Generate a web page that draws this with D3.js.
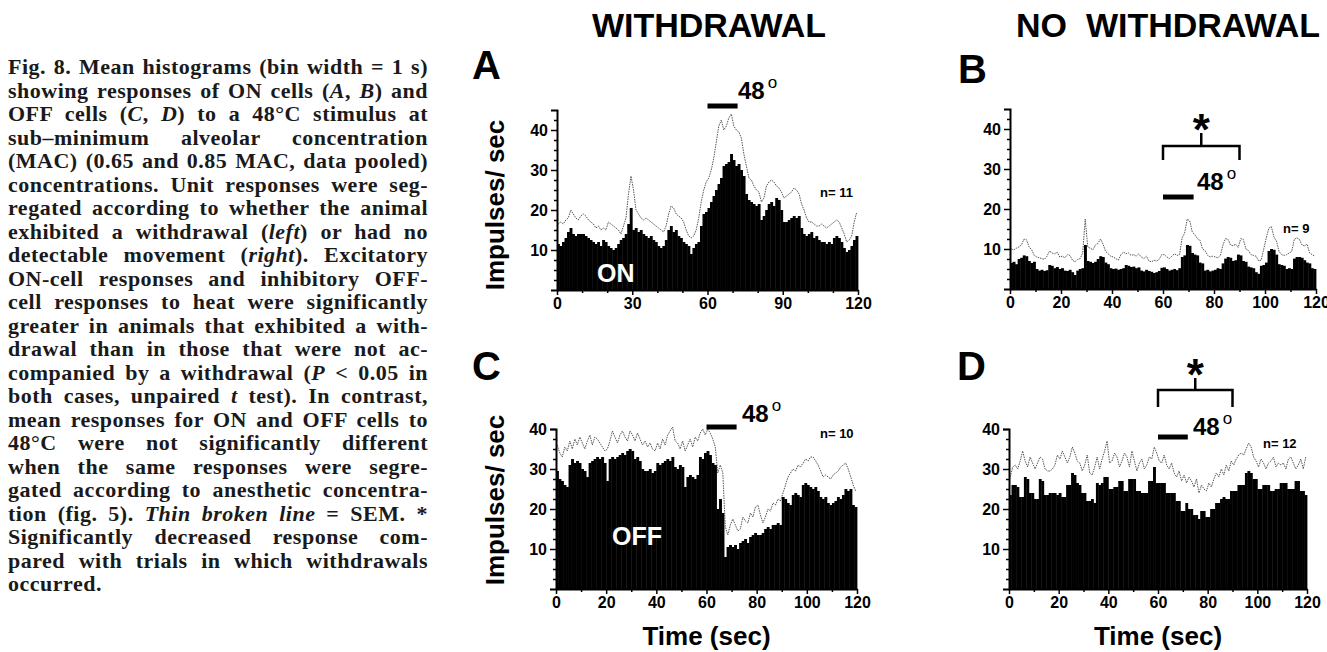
<!DOCTYPE html>
<html>
<head>
<meta charset="utf-8">
<script src="https://cdn.jsdelivr.net/npm/d3@7"></script>
<style>
  body { margin: 0; background: #fff; }
  #wrap { position: relative; width: 1327px; height: 652px; overflow: hidden; }
  #chart { position: absolute; left: 0; top: 0; }
  #caption {
    position: absolute; left: 8px; top: 55px; width: 420px;
    font-family: "Liberation Serif", "Times New Roman", serif;
    font-weight: bold; font-size: 22px; line-height: 23.5px; letter-spacing: 0.5px; color: #1a1a1a;
  }
  #caption div { text-align: justify; text-align-last: justify; }
  #caption div.last { text-align-last: left; }
  .sans { font-family: "Liberation Sans", Arial, sans-serif; font-weight: bold; }
</style>
</head>
<body>
<div id="wrap"><svg id="chart" width="1327" height="652"></svg><div id="caption"></div></div>
<script>
// mean impulses/sec per 1 s bin (0..119 s), and mean + SEM (thin broken line)
const aMean = [11.5, 11, 12, 13, 14.5, 15.5, 14, 13.5, 14, 14,
  14, 13.5, 13, 12.5, 12, 11.5, 12, 11, 12.5, 12,
  11, 10.5, 10, 10.5, 11.5, 12.5, 13, 14, 16.5, 20.5,
  15, 15.5, 14.5, 15, 14, 13.5, 13, 13.5, 12.5, 12,
  11, 10.5, 11, 12.5, 15, 16, 14.5, 15, 13.5, 13,
  12, 11.5, 11, 9, 10.5, 11.5, 12, 16, 19, 19.5,
  20.5, 22, 23.5, 25, 26.5, 28, 31, 31.5, 32, 34,
  32.5, 31, 31.5, 30, 28.5, 24, 22.5, 22, 21.5, 21,
  21.5, 17.5, 18.5, 20, 21.5, 22, 21, 23, 22.5, 20,
  17, 17, 17.5, 18, 18.5, 18, 18.5, 15.5, 14, 13.5,
  14, 14.5, 13, 13.5, 12.5, 12, 12, 11.5, 12, 11.5,
  13, 13.5, 13, 12, 10.5, 9.5, 10, 11, 12.5, 13.5];
const aSem = [16.5, 17, 16.5, 17.5, 18, 20, 19, 18, 17.5, 18.5,
  19, 18.5, 17.5, 17, 16.5, 15.5, 16, 15, 15.5, 15,
  17, 16.5, 16, 15.5, 15, 14, 16, 18, 24, 28.5,
  25, 20, 19, 18, 17.5, 18, 17.5, 17, 16.5, 16,
  15.5, 15, 14.5, 16, 19, 21, 20.5, 19, 18.5, 18,
  17, 15, 13.5, 13, 13.5, 15, 18, 22, 25, 27,
  28, 30, 33, 37, 41, 42.5, 40, 41, 43, 44,
  41, 40, 39.5, 38, 34, 31, 28, 27.5, 26, 25,
  24.5, 22, 23, 26, 27, 27.5, 27, 26, 25.5, 24.5,
  23, 23.5, 24, 24.5, 25.5, 25, 24, 21.5, 20, 18,
  17, 17, 16.5, 16, 16, 16.5, 16, 15.5, 16, 16.5,
  17, 17.5, 17, 15.5, 14, 12, 12.5, 13.5, 17, 19.5];
const bMean = [6.5, 6.8, 6.2, 7.5, 7.8, 8.4, 8.2, 7, 6.5, 6.8,
  5, 4.6, 4.8, 4.5, 4.7, 6, 5.8, 5.2, 5.5, 5,
  5.2, 4.6, 4.5, 4.8, 4.2, 3.5, 4.6, 5, 5.2, 11,
  7, 6.8, 6.5, 6.8, 7.5, 8.2, 8, 6.6, 6.2, 5.2,
  5, 5.1, 4.8, 5, 5.2, 6, 5.8, 5.5, 5.6, 5.2,
  5.4, 4.6, 4.4, 4.8, 4.5, 4.3, 4, 4.2, 4.5, 5.3,
  5.4, 5, 4.6, 4.8, 5, 4.7, 5.2, 8, 8.4, 11,
  10.8, 9, 8.6, 8.4, 6.6, 6.4, 4.6, 4.8, 4.4, 4.6,
  4.8, 5.2, 5, 6.4, 7.6, 8, 7.8, 7, 7.2, 8.6,
  8.4, 7, 6.8, 5.6, 5.4, 5.2, 4.2, 3.8, 5.8, 6,
  6.6, 9.5, 10, 9.8, 8.6, 6.2, 6, 5.8, 5, 5.2,
  5, 7.6, 8, 8, 7.8, 7.2, 6.6, 6.4, 5.2, 5];
const bSem = [10, 9.8, 10.2, 10.5, 11, 12.5, 12.3, 10.5, 9.8, 8.4,
  8, 7.8, 7.6, 7.4, 8.2, 9.5, 9, 8.8, 9.2, 8,
  8.2, 7.8, 8.6, 8.4, 7.2, 6.8, 7.4, 7.6, 9, 17.5,
  10.5, 10.2, 9.8, 11, 11.4, 12.5, 11.2, 9.4, 8.8, 8.2,
  8, 7.6, 7.2, 8.6, 9.2, 8.8, 9, 8.4, 8.6, 8.2,
  8.8, 8, 7.6, 8.2, 7, 6.8, 7.2, 7, 7.4, 8.6,
  8.6, 8, 7.6, 8.2, 8.8, 8.4, 8.6, 12.8, 14, 17.5,
  17, 14.2, 13.6, 12.6, 12.2, 10, 9.6, 8.4, 8, 8.2,
  8, 7.8, 8.4, 11, 12.6, 12.4, 11, 10.8, 11.2, 10.4,
  12.6, 12.4, 10, 9.6, 8.6, 8.4, 8.2, 7, 7.2, 10,
  12.8, 15.2, 15.6, 13, 12, 9.4, 8.6, 8.4, 8.6, 9,
  9.4, 12.4, 12.8, 12.4, 11, 10.8, 11.2, 9, 8.6, 8.2];
const cMean = [29.5, 27.5, 27, 26, 25.5, 31, 32.5, 31.5, 32, 31.5,
  30, 29.5, 28, 31.5, 32, 32.5, 33, 32.5, 33, 31.5,
  27, 32.5, 33, 32.5, 33, 33.5, 34, 33.5, 34.5, 35,
  34.5, 32.5, 33, 32, 30, 29.5, 29.5, 30, 29, 29.5,
  31.5, 31, 31.5, 32, 32.5, 32, 33, 30.5, 30, 31,
  30.5, 25.5, 28, 28.5, 28, 27.5, 28.5, 33, 32.5, 34,
  34.5, 33.5, 31.5, 31, 20, 22.5, 19, 8, 10.5, 11,
  10.5, 11, 10, 11.5, 12, 12.5, 11.5, 13, 13.5, 14,
  13.5, 13.5, 14, 15, 15.5, 15, 16, 16, 16.5, 16,
  23, 22.5, 21.5, 21, 23.5, 24, 23.5, 23, 26, 26.5,
  26, 25.5, 25, 25.5, 24.5, 23, 22.5, 23, 21.5, 21,
  21.5, 22, 23, 22.5, 23.5, 25, 24.5, 25, 21, 20.5];
const cSem = [36, 34, 33, 35.5, 34.5, 37, 35, 37.5, 36, 38,
  36.5, 35, 37, 38.5, 36, 38, 37.5, 36.5, 35.5, 34.5,
  35, 37, 39.5, 38, 36.5, 38.5, 39.5, 38, 37, 39.5,
  38.5, 37, 39, 37.5, 36, 37, 35.5, 36.5, 35, 34.5,
  36.5, 35, 37.5, 36, 38.5, 39.5, 40.5, 37, 36.5, 35,
  37, 34.5, 36, 37.5, 35.5, 38, 37, 39, 40, 38.5,
  40, 39, 37.5, 35.5, 29, 31, 29, 15.5, 13.5, 16,
  17.5, 16, 14.5, 15, 18, 17, 16.5, 19, 18, 20.5,
  21, 18.5, 16.5, 18, 20, 19.5, 21.5, 21, 22.5, 22,
  24, 26, 28, 29, 30, 29.5, 31, 30.5, 31.5, 32.5,
  32, 33, 33, 32, 31, 29.5, 28, 28.5, 28, 27.5,
  28.5, 29, 29.5, 30.5, 31, 31.5, 30, 28, 26, 24.5];
const dMean = [23.5, 26, 26, 25.5, 23, 23, 28, 27.5, 24, 24,
  22.5, 22.5, 27.5, 27, 23.5, 23.5, 24, 24, 24, 23.5,
  24, 23, 23, 26, 26, 29, 28.5, 26.5, 26, 24,
  24, 22, 22, 22.5, 21.5, 26.5, 26, 26.5, 28, 28,
  25, 25, 25.5, 25.5, 27, 27, 24.5, 24.5, 27.5, 27.5,
  27.5, 24.5, 24.5, 24, 24, 24, 27, 27, 30.5, 26.5,
  26.5, 26.5, 26.5, 24, 24, 24, 24, 22, 22, 19.5,
  19.5, 21.5, 20, 20, 18.5, 18.5, 17.5, 19.5, 19.5, 18,
  18, 20, 20, 21.5, 21.5, 22.5, 23, 22.5, 22.5, 24.5,
  24.5, 24.5, 26, 26, 26, 29, 29.5, 29, 27.5, 27.5,
  25, 25, 26, 26, 26, 24.5, 24.5, 25, 25, 26.5,
  26.5, 26.5, 25, 25, 25, 27, 27, 24.5, 24.5, 23.5];
const dSem = [28, 30.5, 31, 30, 32, 34.5, 32, 30.5, 33, 31.5,
  30, 31.5, 33, 32.5, 30, 29.5, 29.5, 30, 31, 33.5,
  32.5, 34.5, 33, 31.5, 33, 35.5, 34, 32, 31.5, 29.5,
  31, 33.5, 29, 28.5, 30.5, 33, 30, 32.5, 34.5, 37,
  31.5, 32, 34, 33, 30.5, 32, 34, 33, 30.5, 34.5,
  32, 29.5, 31.5, 32.5, 30, 31, 33, 32.5, 35.5, 34,
  32, 31.5, 33.5, 31, 30, 31.5, 29, 28, 29.5, 27,
  28.5, 26.5, 28, 27, 25.5, 27.5, 24, 26, 25, 24.5,
  26.5, 25.5, 27.5, 29, 28, 30, 28.5, 31, 29.5, 32,
  31, 32.5, 33.5, 34, 33.5, 35, 36.5, 35.5, 33, 32,
  30.5, 32.5, 31.5, 30, 31.5, 32, 33, 30.5, 31.5, 31,
  31.5, 30, 32.5, 33, 31.5, 30, 31, 32.5, 30, 33];

const xTicksA = [0, 30, 60, 90, 120],
  xTicksB = [0, 20, 40, 60, 80, 100, 120],
  yTicks = [10, 20, 30, 40];
const columnTitles = ["WITHDRAWAL", "NO  WITHDRAWAL"];
const nLabels = ["n= 11", "n= 9", "n= 10", "n= 12"];
const stimulus = [60, 72], sigWindow = [60, 90], stimLabel = "48";

const captionLines = [
  "Fig. 8. Mean histograms (bin width = 1 s)",
  "showing responses of ON cells (<i>A</i>, <i>B</i>) and",
  "OFF cells (<i>C</i>, <i>D</i>) to a 48°C stimulus at",
  "sub–minimum alveolar concentration",
  "(MAC) (0.65 and 0.85 MAC, data pooled)",
  "concentrations. Unit responses were seg-",
  "regated according to whether the animal",
  "exhibited a withdrawal (<i>left</i>) or had no",
  "detectable movement (<i>right</i>). Excitatory",
  "ON-cell responses and inhibitory OFF-",
  "cell responses to heat were significantly",
  "greater in animals that exhibited a with-",
  "drawal than in those that were not ac-",
  "companied by a withdrawal (<i>P</i> &lt; 0.05 in",
  "both cases, unpaired <i>t</i> test). In contrast,",
  "mean responses for ON and OFF cells to",
  "48°C were not significantly different",
  "when the same responses were segre-",
  "gated according to anesthetic concentra-",
  "tion (fig. 5). <i>Thin broken line</i> = SEM. *",
  "Significantly decreased response com-",
  "pared with trials in which withdrawals",
  "occurred."
];

d3.select("#caption").selectAll("div").data(captionLines).join("div")
  .classed("last", (d, i) => i === captionLines.length - 1)
  .html(d => d);

const svg = d3.select("#chart");

// layout of the four panels
const panels = [
  {letter: "A", mean: aMean, sem: aSem, left: 557, right: 858, base: 290, yMax: 45, xt: xTicksA,
    n: nLabels[0], nPos: [820, 197], lPos: [472, 79], stimY: 106, stimTxt: [738, 99],
    cell: "ON", cellPos: [597, 282], ylab: 205},
  {letter: "B", mean: bMean, sem: bSem, left: 1010, right: 1316, base: 289, yMax: 45, xt: xTicksB,
    n: nLabels[1], nPos: [1283, 233], lPos: [958, 83], stimY: 197, stimTxt: [1197, 190],
    bracket: {y: 146, leg: 160, top: 133, star: 145}},
  {letter: "C", mean: cMean, sem: cSem, left: 556, right: 857, base: 589, yMax: 40, xt: xTicksB,
    n: nLabels[2], nPos: [820, 438], lPos: [472, 380], stimY: 427, stimTxt: [742, 422],
    cell: "OFF", cellPos: [612, 545], ylab: 500, xlab: true},
  {letter: "D", mean: dMean, sem: dSem, left: 1009, right: 1307, base: 589, yMax: 40, xt: xTicksB,
    n: nLabels[3], nPos: [1263, 448], lPos: [957, 380], stimY: 437, stimTxt: [1193, 435],
    bracket: {y: 390, leg: 407, top: 378, star: 390}, xlab: true}
];

svg.append("text").attr("class", "sans").attr("x", 709).attr("y", 37)
  .attr("text-anchor", "middle").attr("font-size", 34).text(columnTitles[0]);
svg.append("text").attr("class", "sans").attr("x", 1016).attr("y", 37)
  .attr("font-size", 34).style("white-space", "pre").text(columnTitles[1]);

panels.forEach(p => {
  const x = d3.scaleLinear().domain([0, 120]).range([p.left, p.right]);
  const y = d3.scaleLinear().domain([0, p.yMax]).range([p.base, p.base - p.yMax * 4]);
  const g = svg.append("g");

  // histogram bars
  g.selectAll("rect.bin").data(p.mean).join("rect")
    .attr("class", "bin")
    .attr("x", (d, i) => x(i))
    .attr("width", x(1) - x(0) + 0.4)
    .attr("y", d => y(d))
    .attr("height", d => y(0) - y(d))
    .attr("fill", "#000");

  // mean + SEM
  g.append("path").datum(p.sem)
    .attr("d", d3.line().x((d, i) => x(i + 0.5)).y(d => y(d)))
    .attr("fill", "none").attr("stroke", "#555").attr("stroke-width", 1)
    .attr("stroke-dasharray", "1.5,1");

  // axes
  const minorY = d3.range(2.5, p.yMax, 2.5).filter(v => v % 10 !== 0);
  const minorX = d3.range(10, 120, 10).filter(v => !p.xt.includes(v));
  g.append("g").attr("transform", `translate(${p.left},0)`)
    .call(d3.axisLeft(y).tickValues(minorY).tickSize(3).tickFormat(""))
    .call(a => a.select(".domain").remove());
  g.append("g").attr("transform", `translate(0,${p.base})`)
    .call(d3.axisBottom(x).tickValues(minorX).tickSize(3).tickFormat(""))
    .call(a => a.select(".domain").remove());
  const ya = g.append("g").attr("transform", `translate(${p.left},0)`)
    .call(d3.axisLeft(y).tickValues(yTicks).tickSize(6).tickSizeOuter(6).tickPadding(3));
  const xa = g.append("g").attr("transform", `translate(0,${p.base})`)
    .call(d3.axisBottom(x).tickValues(p.xt).tickSize(5).tickSizeOuter(0).tickPadding(3));
  [ya, xa].forEach(a => {
    a.select(".domain").attr("stroke-width", 2);
    a.selectAll("text").attr("class", "sans").attr("font-size", 16);
  });
  g.selectAll(".tick line").attr("stroke-width", 1.5);

  // stimulus bar and label
  g.append("line").attr("x1", x(stimulus[0])).attr("x2", x(stimulus[1]))
    .attr("y1", p.stimY).attr("y2", p.stimY).attr("stroke", "#000").attr("stroke-width", 5);
  const st = g.append("text").attr("class", "sans").attr("x", p.stimTxt[0]).attr("y", p.stimTxt[1])
    .attr("font-size", 24).text(stimLabel);
  st.append("tspan").attr("dx", 3).attr("dy", -11).attr("font-size", 17)
    .attr("font-weight", "normal").text("o");

  if (p.bracket) {
    const b = p.bracket, mid = x((sigWindow[0] + sigWindow[1]) / 2);
    g.append("path")
      .attr("d", `M${x(sigWindow[0])},${b.leg}V${b.y}H${x(sigWindow[1])}V${b.leg}M${mid},${b.y}V${b.top}`)
      .attr("fill", "none").attr("stroke", "#000").attr("stroke-width", 2.5);
    g.append("text").attr("class", "sans").attr("x", mid).attr("y", b.star)
      .attr("text-anchor", "middle").attr("font-size", 44).text("*");
  }

  g.append("text").attr("class", "sans").attr("x", p.nPos[0]).attr("y", p.nPos[1])
    .attr("font-size", 13).text(p.n);
  g.append("text").attr("class", "sans").attr("x", p.lPos[0]).attr("y", p.lPos[1])
    .attr("font-size", 40).text(p.letter);

  if (p.cell) {
    g.append("text").attr("class", "sans").attr("x", p.cellPos[0]).attr("y", p.cellPos[1])
      .attr("font-size", 25).attr("fill", "#fff").text(p.cell);
    g.append("text").attr("class", "sans")
      .attr("transform", `translate(504,${p.ylab}) rotate(-90)`)
      .attr("text-anchor", "middle").attr("font-size", 26).text("Impulses/ sec");
  }
  if (p.xlab) {
    g.append("text").attr("class", "sans").attr("x", (p.left + p.right) / 2).attr("y", 645)
      .attr("text-anchor", "middle").attr("font-size", 26).text("Time (sec)");
  }
});
</script>
</body>
</html>
